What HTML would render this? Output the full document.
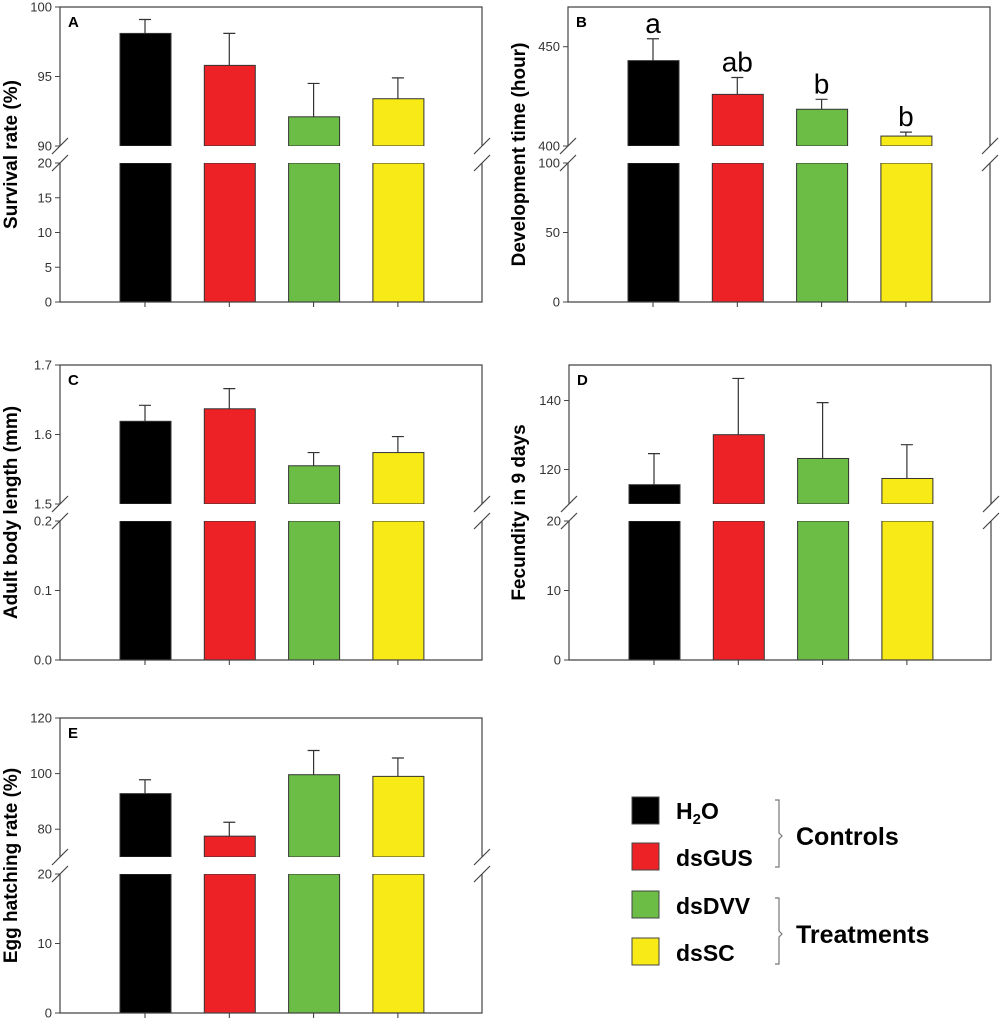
<!DOCTYPE html>
<html><head><meta charset="utf-8"><style>
body{margin:0;background:#fff;width:1000px;height:1020px;overflow:hidden}
svg{font-family:"Liberation Sans",Arial,sans-serif}
</style></head><body>
<svg id="fig" width="1000" height="1020" viewBox="0 0 1000 1020">
<g id="legend">
<rect x="632" y="797" width="27" height="27" fill="#000" stroke="#444"/>
<rect x="632" y="843" width="27" height="27" fill="#ec2227" stroke="#444"/>
<rect x="632" y="891" width="27" height="27" fill="#6bbd45" stroke="#444"/>
<rect x="632" y="938" width="27" height="27" fill="#f7ea16" stroke="#444"/>
<text x="676" y="819" font-size="23" font-weight="bold">H<tspan font-size="15" dy="5">2</tspan><tspan dy="-5">O</tspan></text>
<text x="676" y="866" font-size="23" font-weight="bold">dsGUS</text>
<text x="676" y="914" font-size="23" font-weight="bold">dsDVV</text>
<text x="676" y="961" font-size="23" font-weight="bold">dsSC</text>
<path d="M775,800 H779 V833 L782,836 L779,839 V867 H775" fill="none" stroke="#777" stroke-width="1.2"/>
<path d="M775,898 H779 V931 L782,934 L779,937 V964 H775" fill="none" stroke="#777" stroke-width="1.2"/>
<text x="796" y="845" font-size="25" font-weight="bold">Controls</text>
<text x="796" y="943" font-size="25" font-weight="bold">Treatments</text>
</g>
</svg>
<script>
const groups = ["H2O","dsGUS","dsDVV","dsSC"];
const colors = ["#000000","#ec2227","#6bbd45","#f7ea16"];
// Panel A
const aMeans = [98.1, 95.8, 92.1, 93.4];
const aErrs = [1.0, 2.3, 2.4, 1.5];
const aUpperTicks = [90, 95, 100];
const aLowerTicks = [0, 5, 10, 15, 20];
// Panel B
const bMeans = [443, 426, 418.5, 405];
const bErrs = [11, 8.5, 5, 2];
const bUpperTicks = [400, 450];
const bLowerTicks = [0, 50, 100];
const bLetters = ["a","ab","b","b"];
// Panel C
const cMeans = [1.619, 1.637, 1.555, 1.574];
const cErrs = [0.023, 0.029, 0.019, 0.023];
const cUpperTicks = [1.5, 1.6, 1.7];
const cLowerTicks = [0.0, 0.1, 0.2];
// Panel D
const dMeans = [115.6, 130.1, 123.2, 117.4];
const dErrs = [9.0, 16.3, 16.2, 9.8];
const dUpperTicks = [120, 140];
const dLowerTicks = [0, 10, 20];
// Panel E
const eMeans = [92.8, 77.5, 99.6, 99.0];
const eErrs = [5.0, 5.0, 8.7, 6.6];
const eUpperTicks = [80, 100, 120];
const eLowerTicks = [0, 10, 20];

const NS = "http://www.w3.org/2000/svg";
const fig = document.getElementById('fig');
function el(tag, attrs, parent){const e=document.createElementNS(NS,tag);for(const k in attrs)e.setAttribute(k,attrs[k]);(parent||fig).appendChild(e);return e;}

function panel(cfg){
  const g = el('g',{});
  
  
  const x0=cfg.x0, x1=cfg.x0+422, y0=cfg.y0, yUB=y0+139, yLT=y0+156, yB=y0+295;
  const yUp = v => yUB - (v-cfg.uMin)/(cfg.uMax-cfg.uMin)*(yUB-y0);
  const yLo = v => yB - (v-cfg.lMin)/(cfg.lMax-cfg.lMin)*(yB-yLT);
  const bx = i => x0 + 85 + i*84.3;
  cfg.means.forEach((m,i)=>{
    const x = bx(i)-25;
    const r1 = el('rect',{x:x,y:yLT,width:51,height:yB-yLT,fill:colors[i],stroke:'#333','stroke-width':1},g);
    
    
    const top = yUp(m);
    const r2 = el('rect',{x:x,y:top,width:51,height:yUB-top,fill:colors[i],stroke:'#333','stroke-width':1},g);
    
    
    const eTop = yUp(m + cfg.errs[i]);
    const eb = el('path',{d:`M${bx(i)},${top} V${eTop} M${bx(i)-6},${eTop} H${bx(i)+6}`,stroke:'#333','stroke-width':1.2,fill:'none'},g);
    
    
    if(cfg.labels){
      const t = el('text',{x:bx(i),y:eTop-6,'font-size':28,'text-anchor':'middle',fill:'#000'},g);
      t.textContent = cfg.labels[i];
      
      
    }
    const tk = el('line',{x1:bx(i),x2:bx(i),y1:yB,y2:yB+5,stroke:'#333'},g);
    
    
  });
  el('rect',{x:x0-2,y:yUB,width:426,height:yLT-yUB,fill:'#fff'},g);
  const fr = el('path',{d:`M${x0},${yUB} V${y0} H${x1} V${yUB} M${x0},${yLT} V${yB} H${x1} V${yLT}`,stroke:'#444','stroke-width':1.2,fill:'none'},g);
  
  
  [x0,x1].forEach(x=>{
    const b = el('path',{d:`M${x-8},${yUB+8} L${x+8},${yUB-8} M${x-8},${yLT+8} L${x+8},${yLT-8}`,stroke:'#444','stroke-width':1.2},g);
    
    
  });
  const ticks = (arr, f)=>arr.forEach(v=>{
    const y=f(v);
    el('line',{x1:x0-5,x2:x0,y1:y,y2:y,stroke:'#444'},g);
    const t = el('text',{x:x0-8,y:y+4.5,'font-size':13,'text-anchor':'end',fill:'#333'},g);
    t.textContent = cfg.fmt ? v.toFixed(1) : v;
    
    
  });
  ticks(cfg.uTicks, yUp); ticks(cfg.lTicks, yLo);
  const L = el('text',{x:x0+8,y:y0+20,'font-size':15,'font-weight':'bold'},g);
  L.textContent = cfg.letter;
  
  
  const cy=(y0+yB)/2;
  const yt = el('text',{x:cfg.titleX,y:cy,'font-size':19,'font-weight':'bold','text-anchor':'middle',transform:`rotate(-90 ${cfg.titleX} ${cy})`},g);
  yt.textContent = cfg.title;
  
  
}
panel({letter:'A',x0:60,y0:7,uMin:90,uMax:100,lMin:0,lMax:20,means:aMeans,errs:aErrs,uTicks:aUpperTicks,lTicks:aLowerTicks,title:'Survival rate (%)',titleX:17});
panel({letter:'B',x0:568,y0:7,uMin:400,uMax:470,lMin:0,lMax:100,means:bMeans,errs:bErrs,uTicks:bUpperTicks,lTicks:bLowerTicks,labels:bLetters,title:'Development time (hour)',titleX:525});
panel({letter:'C',x0:60,y0:365,uMin:1.5,uMax:1.7,lMin:0,lMax:0.2,means:cMeans,errs:cErrs,uTicks:cUpperTicks,lTicks:cLowerTicks,fmt:true,title:'Adult body length (mm)',titleX:17});
panel({letter:'D',x0:569,y0:365,uMin:110,uMax:150.3,lMin:0,lMax:20,means:dMeans,errs:dErrs,uTicks:dUpperTicks,lTicks:dLowerTicks,title:'Fecundity in 9 days',titleX:525});
panel({letter:'E',x0:60,y0:718,uMin:70,uMax:120,lMin:0,lMax:20,means:eMeans,errs:eErrs,uTicks:eUpperTicks,lTicks:eLowerTicks,title:'Egg hatching rate (%)',titleX:17});
</script>
</body></html>
